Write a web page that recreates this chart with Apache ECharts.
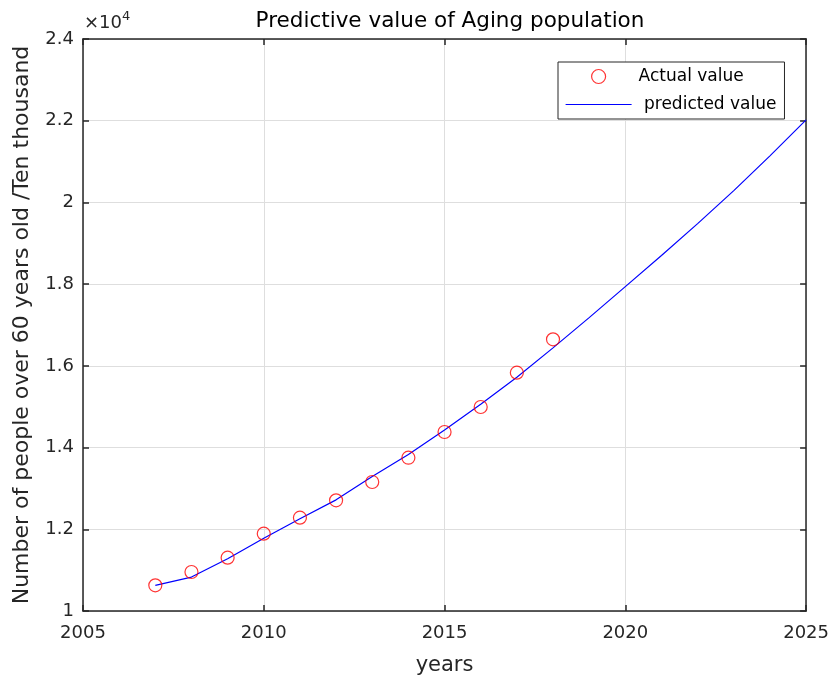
<!DOCTYPE html>
<html>
<head>
<meta charset="utf-8">
<script src="https://cdn.jsdelivr.net/npm/echarts@6/dist/echarts.min.js"></script>
<style>
  html, body { margin: 0; padding: 0; background: #fff; }
  #chart { width: 832px; height: 682px; }
</style>
</head>
<body>
<div id="chart"></div>
<script>
// Observed aging population (people over 60, ten thousand)
const actualYears = [2007, 2008, 2009, 2010, 2011, 2012, 2013, 2014, 2015, 2016, 2017, 2018];
const actualValues = [10629, 10955, 11305, 11892, 12284, 12709, 13157, 13752, 14381, 14993, 15833, 16650];

// Model prediction, one value per year
const predictedYears = [2007, 2008, 2009, 2010, 2011, 2012, 2013, 2014, 2015, 2016, 2017, 2018,
                        2019, 2020, 2021, 2022, 2023, 2024, 2025];
const predictedValues = [10629, 10830, 11280, 11780, 12260, 12720, 13290, 13830, 14430, 15060, 15720, 16440,
                         17180, 17940, 18700, 19480, 20290, 21140, 22020];

const xTicks = { min: 2005, max: 2025, interval: 5 };
const yTicks = { min: 10000, max: 24000, interval: 2000 };

const INK = '#262626';
const FONT = 'DejaVu Sans, Liberation Sans, Arial, sans-serif';

const chart = echarts.init(document.getElementById('chart'), null, { renderer: 'canvas' });

const baseAxis = {
  axisLine: { show: true, onZero: false, lineStyle: { color: INK, width: 1.5 } },
  axisTick: { show: true, inside: true, length: 6, lineStyle: { color: INK, width: 1.5 } },
  splitLine: { show: false }
};

chart.setOption({
  animation: false,
  backgroundColor: '#fff',
  textStyle: { fontFamily: FONT },
  title: {
    text: 'Predictive value of Aging population',
    left: 445, top: 5, textAlign: 'center',
    textStyle: { fontSize: 21.5, fontWeight: 'normal', color: '#000', fontFamily: FONT }
  },
  grid: { left: 83, right: 25, top: 39, bottom: 71, containLabel: false },
  legend: {
    orient: 'vertical',
    left: 558, top: 62,
    padding: [6, 8, 6, 7],
    itemWidth: 66, itemHeight: 14, itemGap: 11,
    borderColor: INK, borderWidth: 1, backgroundColor: '#fff',
    textStyle: { fontSize: 17, color: '#000', fontFamily: FONT, padding: [0, 0, 0, 2] },
    data: [
      { name: 'Actual value', icon: 'circle',
        itemStyle: { color: 'rgba(0,0,0,0)', borderColor: '#ff0000', borderWidth: 1.2 } },
      { name: ' predicted value',
        itemStyle: { color: 'rgba(0,0,0,0)', borderWidth: 0, opacity: 0 },
        lineStyle: { color: '#0000ff', width: 1.2, opacity: 1 } }
    ]
  },
  xAxis: [
    Object.assign({}, baseAxis, {
      type: 'value', position: 'bottom',
      min: xTicks.min, max: xTicks.max, interval: xTicks.interval,
      name: 'years', nameLocation: 'middle', nameGap: 44,
      nameTextStyle: { fontSize: 21, color: INK, fontFamily: FONT },
      axisLabel: { color: INK, fontSize: 18, margin: 13, fontFamily: FONT,
                   formatter: v => String(v) },
      splitLine: { show: true, lineStyle: { color: '#dedede', width: 1 } }
    }),
    Object.assign({}, baseAxis, {
      type: 'value', position: 'top',
      min: xTicks.min, max: xTicks.max, interval: xTicks.interval,
      axisLabel: { show: false }
    })
  ],
  yAxis: [
    Object.assign({}, baseAxis, {
      type: 'value', position: 'left',
      min: yTicks.min, max: yTicks.max, interval: yTicks.interval,
      name: 'Number of people over 60 years old /Ten thousand',
      nameLocation: 'middle', nameGap: 50,
      nameTextStyle: { fontSize: 22, color: INK, fontFamily: FONT },
      axisLabel: { color: INK, fontSize: 18, margin: 9, fontFamily: FONT,
                   formatter: v => String(v / 10000) },
      splitLine: { show: true, lineStyle: { color: '#dedede', width: 1 } }
    }),
    Object.assign({}, baseAxis, {
      type: 'value', position: 'right',
      min: yTicks.min, max: yTicks.max, interval: yTicks.interval,
      axisLabel: { show: false }
    })
  ],
  graphic: [{
    type: 'text', left: 84, top: 10,
    style: {
      text: '{m|×10}{s|4}',
      rich: {
        m: { fontSize: 18, fill: INK, fontFamily: FONT, verticalAlign: 'bottom' },
        s: { fontSize: 13, fill: INK, fontFamily: FONT, verticalAlign: 'top', padding: [0, 0, 9, 0] }
      }
    }
  }],
  series: [
    {
      name: 'Actual value', type: 'scatter',
      xAxisIndex: 0, yAxisIndex: 0,
      symbol: 'circle', symbolSize: 13,
      itemStyle: { color: 'rgba(0,0,0,0)', borderColor: '#ff0000', borderWidth: 1.2 },
      data: actualYears.map((y, i) => [y, actualValues[i]]),
      z: 3
    },
    {
      name: ' predicted value', type: 'line',
      xAxisIndex: 0, yAxisIndex: 0,
      symbol: 'none', showSymbol: false,
      lineStyle: { color: '#0000ff', width: 1.2 },
      itemStyle: { color: '#0000ff' },
      data: predictedYears.map((y, i) => [y, predictedValues[i]]),
      z: 2
    }
  ]
});
</script>
</body>
</html>
